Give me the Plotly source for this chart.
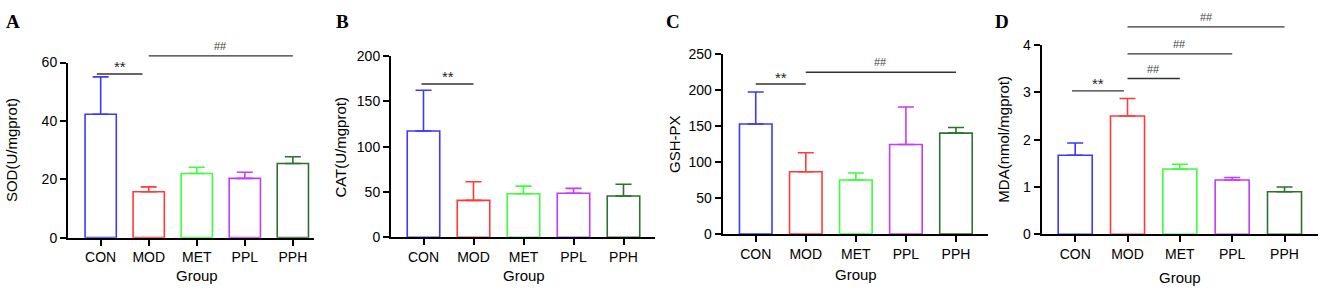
import plotly.graph_objects as go

W, H = 1325, 297

groups = ["CON", "MOD", "MET", "PPL", "PPH"]
colors = ["#3a3aff", "#ff3a3a", "#3aff3a", "#c43aff", "#2f6f2f"]

sod_mean = [42.3, 15.7, 22.0, 20.3, 25.4]
sod_err = [12.8, 1.7, 2.1, 2.1, 2.3]
cat_mean = [117.2, 40.7, 48.0, 48.6, 45.5]
cat_err = [44.9, 20.5, 8.4, 5.3, 13.0]
gsh_mean = [152.5, 86.5, 75.1, 124.1, 139.9]
gsh_err = [44.5, 26.2, 9.7, 52.0, 7.8]
mda_mean = [1.67, 2.50, 1.38, 1.15, 0.90]
mda_err = [0.26, 0.37, 0.10, 0.05, 0.10]

y_titles = ["SOD(U/mgprot)", "CAT(U/mgprot)", "GSH-PX", "MDA(nmol/mgprot)"]
panel_letters = ["A", "B", "C", "D"]
y_max = [60, 200, 250, 4]
y_dtick = [20, 50, 50, 1]

# significance brackets: (label, x0, x1, y)
sig_A = [("**", -0.08, 0.87, 56.1), ("##", 1.0, 4.0, 62.3)]
sig_B = [("**", -0.04, 1.0, 169.1)]
sig_C = [("**", 0.0, 1.0, 208.0), ("##", 1.0, 4.0, 224.2)]
sig_D = [("**", -0.06, 0.93, 3.03), ("##", 1.0, 2.0, 3.29),
         ("##", 1.0, 3.0, 3.81), ("##", 1.0, 4.0, 4.38)]

panels = [
    (sod_mean, sod_err, sig_A),
    (cat_mean, cat_err, sig_B),
    (gsh_mean, gsh_err, sig_C),
    (mda_mean, mda_err, sig_D),
]

# layout geometry (pixels)
x_dom_px = [(68, 314), (391, 655), (722.7, 988), (1041.7, 1318)]
y_dom_px = [(242.7, 57.7), (242.3, 50.7), (239, 48.3), (239.3, 39)]
x_ranges = [(-0.68, 4.44), (-0.65, 4.63), (-0.66, 4.64), (-0.64, 4.64)]
ytitle_x_px = [11, 341, 675, 1004]
xtitle_y_px = [283, 283, 282, 285]
letter_x_px = [4, 334, 664, 993]

fig = go.Figure()
FONT = "Liberation Sans, Arial, sans-serif"
shapes = []
annotations = []

for i, (mean, err, sigs) in enumerate(panels):
    n = "" if i == 0 else str(i + 1)
    xa, ya = "x" + n, "y" + n
    for g, m, e, c in zip(groups, mean, err, colors):
        fig.add_trace(go.Bar(
            x=[g], y=[m], width=0.65, xaxis=xa, yaxis=ya,
            marker=dict(color="white", line=dict(color=c, width=1.6)),
            error_y=dict(type="data", symmetric=False, array=[e], arrayminus=[0],
                         color=c, thickness=1.6, width=8),
            showlegend=False, hoverinfo="skip",
        ))
    xd = (x_dom_px[i][0] / W, x_dom_px[i][1] / W)
    yd = (1 - y_dom_px[i][0] / H, 1 - y_dom_px[i][1] / H)
    axis_common = dict(showline=True, linecolor="black", linewidth=2,
                       ticks="outside", ticklen=6, tickwidth=2, tickcolor="black",
                       showgrid=False, zeroline=False,
                       tickfont=dict(family=FONT, size=14, color="black"))
    fig.update_layout(**{
        ("xaxis" + n): dict(domain=xd, anchor=ya, type="category",
                            categoryorder="array", categoryarray=groups,
                            range=list(x_ranges[i]), **axis_common),
        ("yaxis" + n): dict(domain=yd, anchor=xa, range=[0, y_max[i]],
                            dtick=y_dtick[i], tick0=0, **axis_common),
    })
    r0, r1 = x_ranges[i]
    for lab, x0, x1, yv in sigs:
        fx0 = (x0 - r0) / (r1 - r0)
        fx1 = (x1 - r0) / (r1 - r0)
        fy = yv / y_max[i]
        shapes.append(dict(type="line", xref=xa + " domain", yref=ya + " domain",
                           x0=fx0, x1=fx1, y0=fy, y1=fy,
                           line=dict(color="#333333", width=1.4)))
        py = yd[0] + fy * (yd[1] - yd[0])
        if lab == "**":
            annotations.append(dict(text="**", x=(x0 + x1) / 2, xref=xa, y=py, yref="paper",
                                    yanchor="middle", yshift=7, showarrow=False,
                                    font=dict(family=FONT, size=15, color="#222222")))
        else:
            annotations.append(dict(text="##", x=(x0 + x1) / 2, xref=xa, y=py, yref="paper",
                                    yanchor="middle", yshift=10, showarrow=False,
                                    font=dict(family=FONT, size=11, color="#444444")))
    # y title
    annotations.append(dict(text=y_titles[i], x=ytitle_x_px[i] / W, xref="paper",
                            y=(yd[0] + yd[1]) / 2, yref="paper", textangle=-90,
                            xanchor="center", yanchor="middle", showarrow=False,
                            font=dict(family=FONT, size=15, color="black")))
    # x title
    annotations.append(dict(text="Group", x="MET", xref=xa, y=1 - xtitle_y_px[i] / H,
                            yref="paper", xanchor="center", yanchor="middle", showarrow=False,
                            font=dict(family=FONT, size=15, color="black")))
    # panel letter
    annotations.append(dict(text="<b>" + panel_letters[i] + "</b>", x=letter_x_px[i] / W,
                            xref="paper", y=1 - 14 / H, yref="paper",
                            xanchor="left", yanchor="middle", showarrow=False,
                            font=dict(family="Liberation Serif, Times New Roman, serif",
                                      size=19, color="black")))

fig.update_layout(
    width=W, height=H, margin=dict(l=0, r=0, t=0, b=0),
    paper_bgcolor="white", plot_bgcolor="white",
    barmode="overlay", shapes=shapes, annotations=annotations,
    hovermode=False,
)

fig.write_html(
    "out.html",
    config={"displayModeBar": False, "staticPlot": True},
    post_script="document.documentElement.style.margin='0';"
                "document.body.style.margin='0';"
                "document.body.style.padding='0';"
                "document.body.style.overflow='hidden';",
)
